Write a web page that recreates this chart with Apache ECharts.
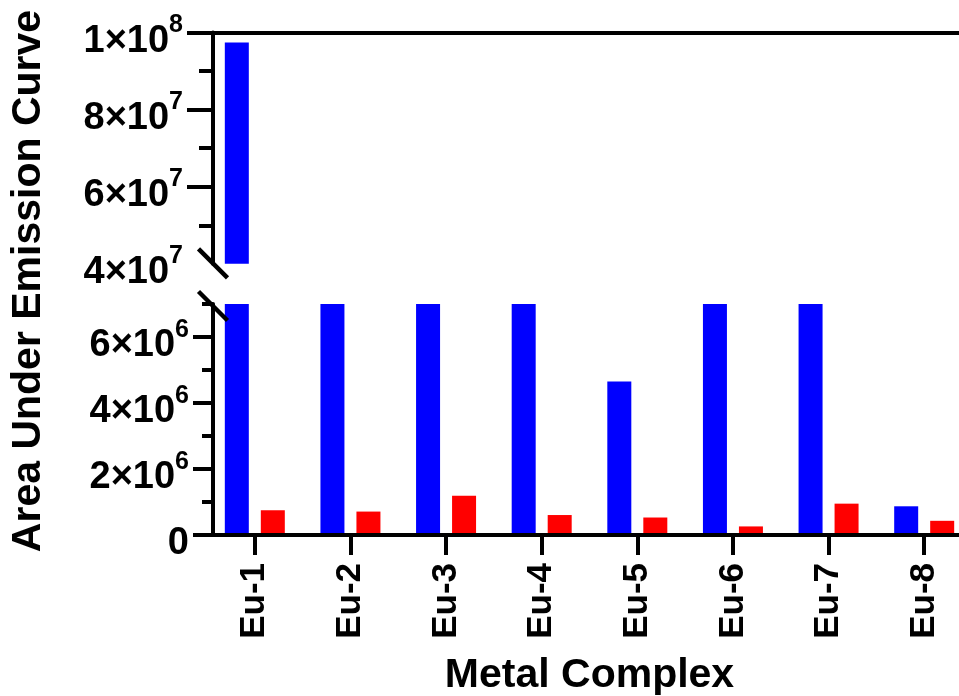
<!DOCTYPE html>
<html><head><meta charset="utf-8">
<script src="https://cdn.jsdelivr.net/npm/echarts@6/dist/echarts.min.js"></script>
<style>html,body{margin:0;padding:0;background:#fff}#c{width:959px;height:696px}</style>
</head><body><div id="c"></div>
<script>
const categories = ['Eu-1', 'Eu-2', 'Eu-3', 'Eu-4', 'Eu-5', 'Eu-6', 'Eu-7', 'Eu-8'];
// Blue values for Eu-2,3,4,6,7 exceed the lower segment (7e6) but stay below 4e7: estimated
const blueValues = [9.74e7, 1.6e7, 2.1e7, 1.4e7, 4.65e6, 1.2e7, 1.9e7, 8.7e5];
const redValues = [7.5e5, 7.1e5, 1.19e6, 6.05e5, 5.3e5, 2.6e5, 9.5e5, 4.3e5];
const upperRange = [4e7, 1e8];
const lowerRange = [0, 7e6];
const upperLabelTicks = [4e7, 6e7, 8e7, 1e8];
const upperMajorTicks = [6e7, 8e7, 1e8];
const upperMinorTicks = [5e7, 7e7, 9e7];
const lowerLabelTicks = [0, 2e6, 4e6, 6e6];
const lowerMajorTicks = [0, 2e6, 4e6, 6e6];
const lowerMinorTicks = [1e6, 3e6, 5e6, 7e6];
const yTitle = 'Area Under Emission Curve';
const xTitle = 'Metal Complex';

const FONT = '"Liberation Sans", Arial, Helvetica, sans-serif';
const GRID_LEFT = 207;
const GRID_WIDTH = 765;
const Y_OFFSET = -6;
const LW = 4;

function fmt(v) {
  if (v === 0) return '{m|0}';
  const e = Math.floor(Math.log10(v) + 1e-9);
  const m = Math.round(v / Math.pow(10, e));
  return '{m|' + m + '×10}{s|' + e + '}';
}
const rich = {
  m: { fontSize: 38, fontWeight: 'bold', fontFamily: FONT, color: '#000', lineHeight: 47.5, verticalAlign: 'bottom' },
  s: { fontSize: 25, fontWeight: 'bold', fontFamily: FONT, color: '#000', lineHeight: 4, verticalAlign: 'top' }
};

function majorAxis(grid, range, labels, ticks, tickLen, margin) {
  return {
    type: 'value', gridIndex: grid, position: 'left', min: range[0], max: range[1], offset: Y_OFFSET, z: 5,
    axisLine: { show: true, onZero: false, lineStyle: { color: '#000', width: LW } },
    axisTick: { show: true, customValues: ticks, length: tickLen, lineStyle: { color: '#000', width: LW } },
    axisLabel: { show: true, customValues: labels, formatter: fmt, margin: margin, rich: rich, padding: [8, 0, 0, 0] },
    splitLine: { show: false }
  };
}
function minorAxis(grid, range, ticks, tickLen) {
  return {
    type: 'value', gridIndex: grid, position: 'left', min: range[0], max: range[1], offset: Y_OFFSET, z: 5,
    axisLine: { show: false, onZero: false },
    axisTick: { show: true, customValues: ticks, length: tickLen, lineStyle: { color: '#000', width: LW } },
    axisLabel: { show: false },
    splitLine: { show: false }
  };
}
function barSeries(xi, yi, data, color) {
  return {
    type: 'bar', xAxisIndex: xi, yAxisIndex: yi, data: data, barWidth: 24, barGap: '50%',
    clip: true, silent: true, z: 1, itemStyle: { color: color }
  };
}

const chart = echarts.init(document.getElementById('c'), null, { renderer: 'canvas' });
chart.setOption({
  animation: false,
  backgroundColor: '#fff',
  grid: [
    { left: GRID_LEFT, width: GRID_WIDTH, top: 32.5, height: 231.3, containLabel: false, outerBoundsMode: 'none' },
    { left: GRID_LEFT, width: GRID_WIDTH, top: 304, height: 231, containLabel: false, outerBoundsMode: 'none' }
  ],
  xAxis: [
    { type: 'category', gridIndex: 0, data: categories, position: 'top', z: 5,
      axisLine: { show: true, onZero: false, lineStyle: { color: '#000', width: LW } },
      axisTick: { show: false }, axisLabel: { show: false } },
    { type: 'category', gridIndex: 1, data: categories, position: 'bottom', z: 5,
      axisLine: { show: true, onZero: false, lineStyle: { color: '#000', width: LW } },
      axisTick: { show: true, alignWithLabel: true, length: 20, lineStyle: { color: '#000', width: LW } },
      axisLabel: { rotate: 90, margin: 28, fontSize: 35, fontWeight: 'bold', color: '#000', fontFamily: FONT },
      name: xTitle, nameLocation: 'middle', nameGap: 120,
      nameTextStyle: { fontSize: 41, fontWeight: 'bold', color: '#000', fontFamily: FONT } }
  ],
  yAxis: [
    majorAxis(0, upperRange, upperLabelTicks, upperMajorTicks, 26, 30),
    minorAxis(0, upperRange, upperMinorTicks, 14),
    majorAxis(1, lowerRange, lowerLabelTicks, lowerMajorTicks, 20, 24),
    minorAxis(1, lowerRange, lowerMinorTicks, 11)
  ],
  series: [
    barSeries(0, 0, blueValues, '#0000FF'),
    barSeries(0, 0, redValues, '#FF0000'),
    barSeries(1, 2, blueValues, '#0000FF'),
    barSeries(1, 2, redValues, '#FF0000')
  ]
});

const axisX = GRID_LEFT - Y_OFFSET;
const yBreakUpper = chart.convertToPixel({ yAxisIndex: 0 }, upperRange[0]);
const yBreakLower = chart.convertToPixel({ yAxisIndex: 2 }, lowerRange[1]);
const H = 14.5;
function slash(cy) {
  return { type: 'line', z: 10, silent: true,
    shape: { x1: axisX - H, y1: cy - H, x2: axisX + H, y2: cy + H },
    style: { stroke: '#000', lineWidth: 4.5 } };
}
chart.setOption({
  graphic: [
    slash(yBreakUpper - 0.5),
    slash(yBreakLower + 2),
    { type: 'text', x: 29, y: 281, rotation: Math.PI / 2, z: 10, silent: true,
      style: { text: yTitle, font: 'bold 41px ' + FONT, fill: '#000',
        align: 'center', verticalAlign: 'middle', textAlign: 'center', textVerticalAlign: 'middle' } }
  ]
});
</script>
</body></html>
